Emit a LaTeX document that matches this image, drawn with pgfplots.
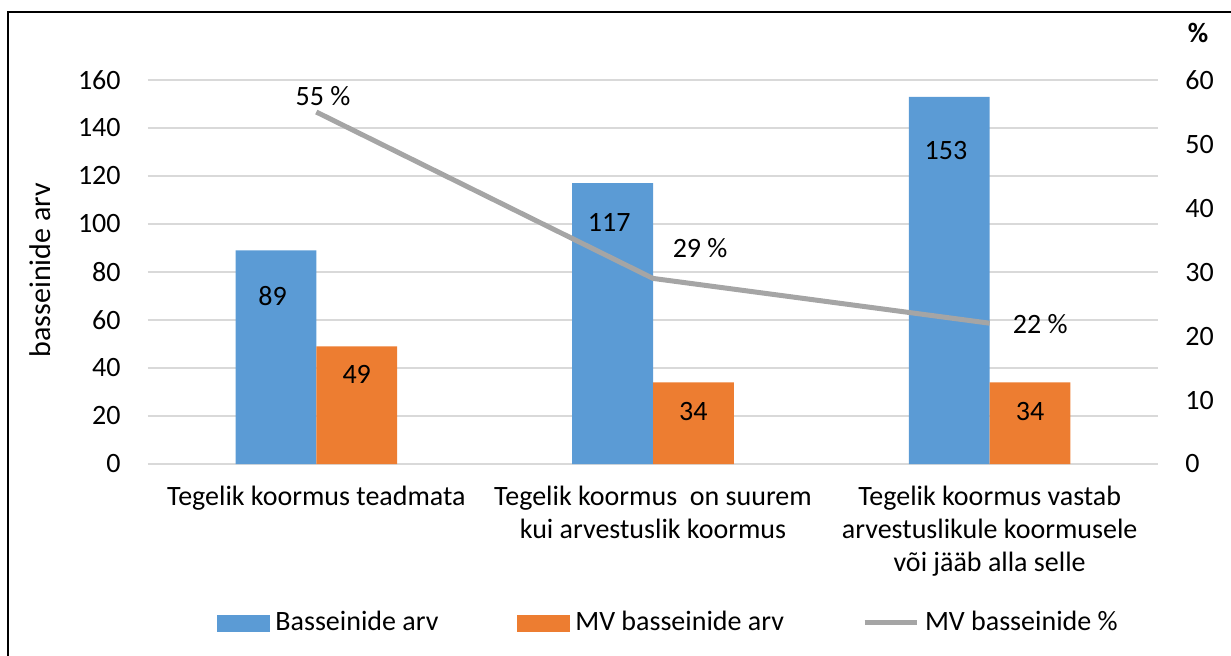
\documentclass[border=0pt]{standalone}
\usepackage{pgfplots}
\pgfplotsset{compat=1.18}
\usepackage{fontspec}
\setmainfont{Carlito}
\definecolor{cblue}{HTML}{5B9BD5}
\definecolor{corange}{HTML}{ED7D31}
\definecolor{cgray}{HTML}{A5A5A5}
\definecolor{cgrid}{HTML}{D9D9D9}

\begin{document}
\fontsize{14}{16.5}\selectfont
\begin{tikzpicture}
\useasboundingbox (-74pt,-95.5pt) rectangle (541.5pt,232pt);
\draw[line width=0.75pt] (-70pt,-97pt) -- (-70pt,226pt) -- (543pt,226pt);
\pgfplotsset{every axis/.append style={
  at={(0,0)}, anchor=south west, width=505pt, height=192pt, scale only axis,
  xmin=-0.5, xmax=2.5, major tick length=0pt, clip=false,
  axis line style={draw=none},
  tick label style={font=\fontsize{14}{16.5}\selectfont},
  /pgf/number format/assume math mode=true,
}}
\begin{axis}[
  ymin=0, ymax=160, ytick={0,20,...,160},
  ymajorgrids, grid style={cgrid, line width=0.6pt},
  yticklabel style={anchor=east, inner sep=0pt, xshift=-13.5pt},
  xtick={0,1,2},
  xticklabels={{Tegelik koormus teadmata},{Tegelik koormus\ \ on suurem\\kui arvestuslik koormus},{Tegelik koormus vastab\\arvestuslikule koormusele\\või jääb alla selle}},
  xticklabel style={anchor=north, inner sep=0pt, yshift=-11pt, align=center},
]
\addplot[ybar, bar width=0.24, bar shift=-0.12, fill=cblue, draw=none] coordinates {(0,89)(1,117)(2,153)};
\addplot[ybar, bar width=0.24, bar shift=0.12, fill=corange, draw=none] coordinates {(0,49)(1,34)(2,34)};
\node at (axis cs:-0.13,70) {89};
\node at (axis cs:0.87,100.8) {117};
\node at (axis cs:1.87,130.8) {153};
\node at (axis cs:0.12,37.5) {49};
\node at (axis cs:1.12,21.7) {34};
\node at (axis cs:2.12,21.7) {34};
\node[rotate=90, font=\fontsize{15}{18}\selectfont] at (rel axis cs:-0.107,0.505) {basseinide arv};
\end{axis}
\begin{axis}[
  ymin=0, ymax=60, ytick={0,10,...,60},
  axis y line*=right, hide x axis,
  yticklabel style={anchor=west, inner sep=0pt, xshift=13.5pt},
  legend columns=3,
  legend style={at={(0.517,-0.414)}, anchor=center, draw=none, fill=none,
    font=\fontsize{14}{16.5}\selectfont, inner sep=0pt,
    nodes={inner xsep=3pt},
    /tikz/every even column/.append style={column sep=36pt}},
]
\addlegendimage{legend image code/.code={\fill[cblue] (0pt,-4pt) rectangle (26pt,4pt);}}
\addlegendentry{Basseinide arv}
\addlegendimage{legend image code/.code={\fill[corange] (0pt,-4pt) rectangle (26pt,4pt);}}
\addlegendentry{MV basseinide arv}
\addplot[cgray, line width=2.5pt, mark=none,
  legend image code/.code={\draw[cgray,line width=2.5pt] (0pt,0pt) -- (26pt,0pt);}]
  coordinates {(0,55)(1,29)(2,22)};
\addlegendentry{MV basseinide \%}
\node at (axis cs:0.02,57.5) {55 \%};
\node at (axis cs:1.14,33.75) {29 \%};
\node at (axis cs:2.15,21.9) {22 \%};
\node[font=\bfseries] at (rel axis cs:1.0396,1.122) {\%};
\end{axis}
\end{tikzpicture}
\end{document}
